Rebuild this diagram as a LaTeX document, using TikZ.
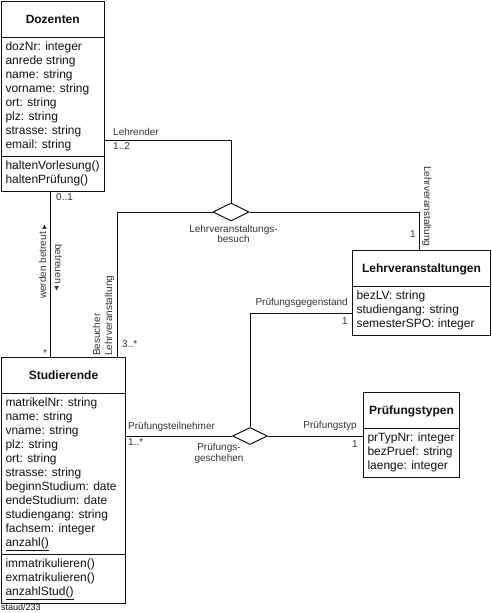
\documentclass[tikz,border=0pt]{standalone}
\usepackage{fontspec}
\setmainfont{Liberation Sans}
\newfontfamily\symfont{DejaVu Sans}
\usepackage{tikz}
\usetikzlibrary{shapes.multipart, shapes.geometric}
\definecolor{Black}{HTML}{111111}
\definecolor{DimGray}{HTML}{333333}
\newcommand{\clstitle}[1]{\rule[-10.5pt]{0pt}{29pt}\textbf{#1}}
\newcommand{\klassenop}[1]{\smash{\underline{#1}}\strut}
\newcommand{\lesedir}{{\symfont\fontsize{6}{6}\selectfont ▶}}

\begin{document}
\begin{tikzpicture}[x=1pt, y=1pt,
  umlclass/.style={rectangle split, rectangle split parts=3, rectangle split part align={center, left, left}, draw=Black, line width=1pt, anchor=north west, align=left, inner xsep=4pt, inner ysep=3pt, text=Black, font=\fontsize{12}{14}\selectfont},
  relation/.style={diamond, draw=Black, line width=1pt, fill=white, inner sep=0pt, minimum width=36pt, minimum height=18pt},
  assoc/.style={draw=Black, line width=1pt},
  rolle/.style={font=\fontsize{10}{11}\selectfont, text=DimGray, inner sep=1pt}
]
\useasboundingbox (0,0) rectangle (491,-613);

% Klassen
\node[umlclass, minimum width=102.5pt] (doz) at (1,-1) {\clstitle{Dozenten}
  \nodepart{two}\strut dozNr: integer\\anrede string\\name: string\\vorname: string\\ort: string\\plz: string\\strasse: string\\email: string\strut
  \nodepart{three}\strut haltenVorlesung()\\haltenPrüfung()\strut};
\node[umlclass, minimum width=124pt] (stud) at (1,-357) {\clstitle{Studierende}
  \nodepart{two}\strut matrikelNr: string\\name: string\\vname: string\\plz: string\\ort: string\\strasse: string\\beginnStudium: date\\endeStudium: date\\studiengang: string\\fachsem: integer\\\klassenop{anzahl()}
  \nodepart{three}\strut immatrikulieren()\\exmatrikulieren()\\\klassenop{anzahlStud()}};
\node[umlclass, rectangle split parts=2, minimum width=138pt] (lv) at (352,-250) {\clstitle{Lehrveranstaltungen}
  \nodepart{two}\strut bezLV: string\\studiengang: string\\semesterSPO: integer\strut};
\node[umlclass, rectangle split parts=2, minimum width=96pt] (pt) at (363,-392) {\clstitle{Prüfungstypen}
  \nodepart{two}\strut prTypNr: integer\\bezPruef: string\\laenge: integer\strut};

% Beziehungen
\node[relation] (besuch) at (231,-212) {};
\node[relation, minimum width=35pt, minimum height=17pt] (gesch) at (250,-436) {};

\draw[assoc] (besuch.north) |- ([yshift=-43.5pt]doz.east);
\draw[assoc] (besuch.west) -| ([xshift=-9pt]stud.north east);
\draw[assoc] (besuch.east) -| ([xshift=-2pt]lv.north);
\draw[assoc] ([yshift=-20pt]lv.west) -| (gesch.north);
\draw[assoc] (stud.east |- gesch.west) -- (gesch.west);
\draw[assoc] (gesch.east) -- (pt.west |- gesch.east);
\draw[assoc] ([xshift=-2pt]doz.south) -- ([xshift=-2pt]doz.south |- stud.north);

% Rollen und Multiplizitaeten
\node[rolle, anchor=base west] (lehrender) at (112,-135) {Lehrender};
\node[rolle, anchor=base west] (mult12) at (112,-149) {1..2};
\node[rolle, anchor=base west] (mult01) at (55,-200) {0..1};
\node[rolle, anchor=base west] (multstern) at (42,-356) {*};
\node[rolle, anchor=base west, rotate=90] (betreut) at (46,-300) {werden betreut \lesedir};
\node[rolle, anchor=base west, rotate=-90] (betreuen) at (55,-243) {betreuen \lesedir};
\node[rolle, anchor=south west, rotate=90, align=left, font=\fontsize{10}{12}\selectfont] (besucher) at (115.5,-357) {Besucher\\Lehrveranstaltung};
\node[rolle, anchor=base west] (mult3) at (121,-347) {3..*};
\node[rolle, anchor=north, align=center, font=\fontsize{10}{10.5}\selectfont] (besuchname) at (233.5,-224) {Lehrveranstaltungs-\\besuch};
\node[rolle, anchor=base west, rotate=-90] (lvrolle) at (424,-165) {Lehrveranstaltung};
\node[rolle, anchor=base east] (multlv) at (417,-237) {1};
\node[rolle, anchor=base east] (gegenstand) at (349,-305) {Prüfungsgegenstand};
\node[rolle, anchor=base east] (multgeg) at (349,-324) {1};
\node[rolle, anchor=base west] (teilnehmer) at (127,-429) {Prüfungsteilnehmer};
\node[rolle, anchor=base west] (multteil) at (127,-445) {1..*};
\node[rolle, anchor=north, align=center] (geschname) at (219,-442) {Prüfungs-\\geschehen};
\node[rolle, anchor=base east] (typ) at (358,-428) {Prüfungstyp};
\node[rolle, anchor=base east] (multtyp) at (359,-447) {1};

\node[rolle, anchor=base west, text=Black, font=\fontsize{9}{10}\selectfont] (quelle) at (0,-610.5) {staud/233};
\end{tikzpicture}
\end{document}
